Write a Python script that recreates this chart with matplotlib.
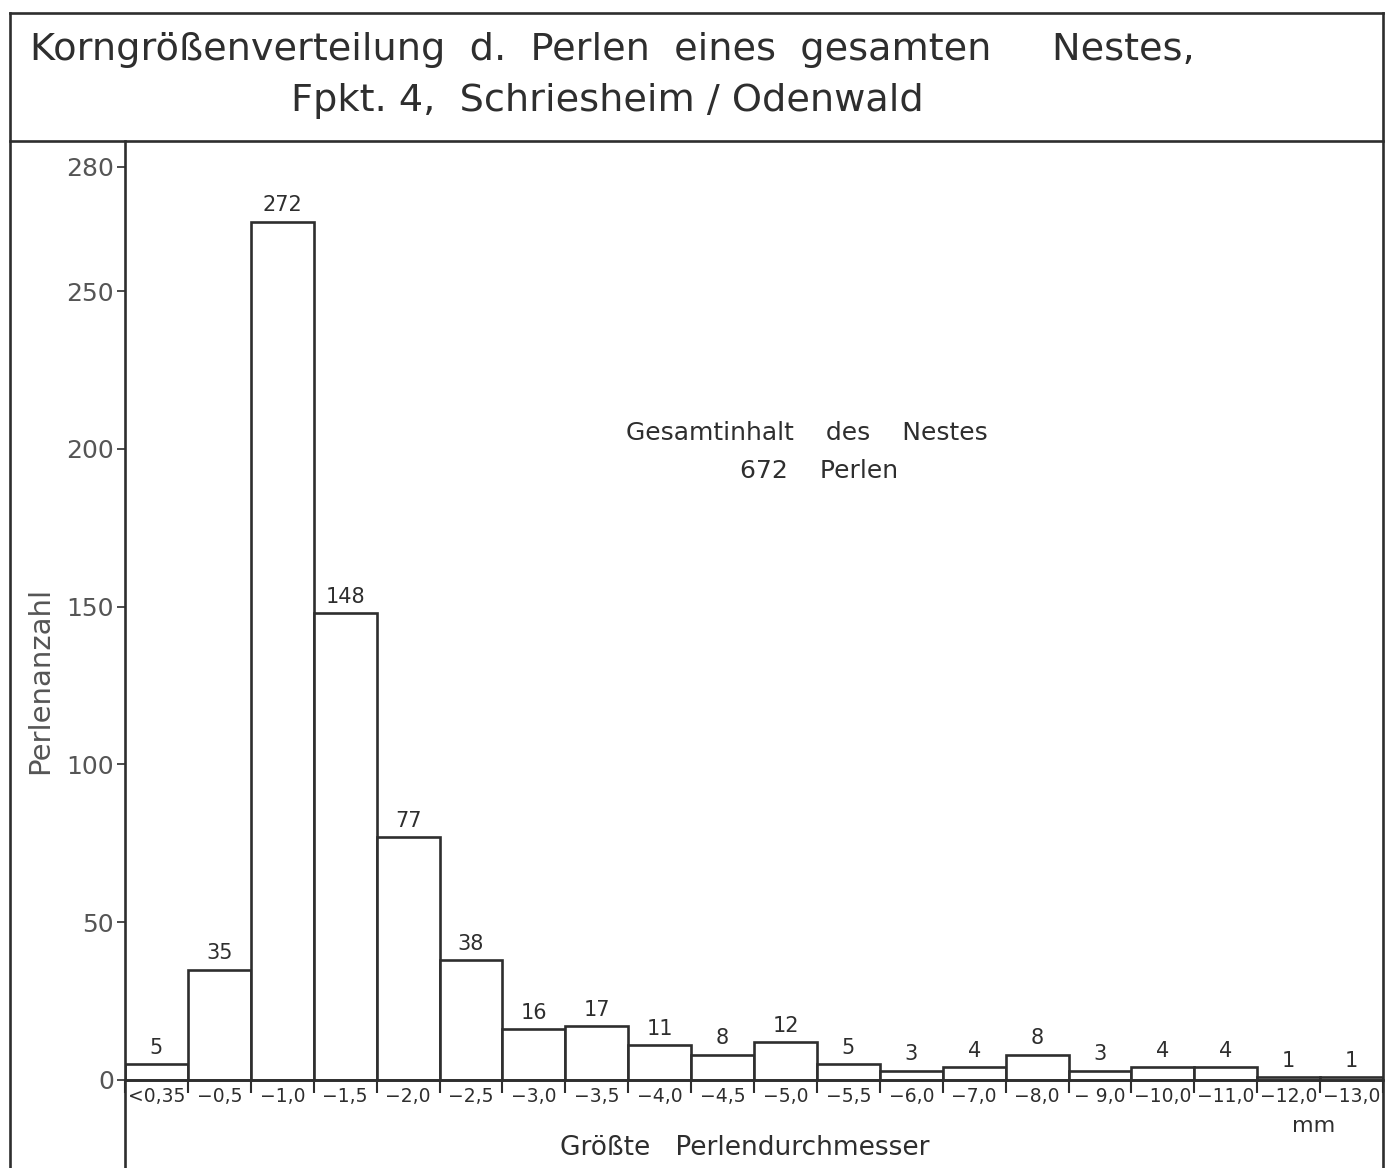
import numpy as np
import matplotlib
matplotlib.use("Agg")
import matplotlib.pyplot as plt
from matplotlib.lines import Line2D

# Klassen (größter Perlendurchmesser, mm) und Anzahl der Perlen
klassen = ["<0,35", "−0,5", "−1,0", "−1,5", "−2,0", "−2,5", "−3,0", "−3,5",
           "−4,0", "−4,5", "−5,0", "−5,5", "−6,0", "−7,0", "−8,0", "− 9,0",
           "−10,0", "−11,0", "−12,0", "−13,0"]
anzahl = [5, 35, 272, 148, 77, 38, 16, 17, 11, 8, 12, 5, 3, 4, 8, 3, 4, 4, 1, 1]
y_labels = ["0", "50", "100", "150", "200", "250", "280"]
# in der Vorlage ist die Marke "280" etwas zu hoch eingezeichnet
y_ticks = [0, 50, 100, 150, 200, 250, 289.4]

farbe = "#2e2e2e"
lw = 1.9

fig = plt.figure(figsize=(13.93, 11.68), dpi=100)
W, H = 1393, 1168

def fx(px):
    return px / W

def fy(py):
    return 1 - py / H

ax = fig.add_axes([fx(125), 0, fx(1383) - fx(125), fy(141)])

pos = np.arange(len(anzahl))
ax.bar(pos, anzahl, width=1.0, align="edge", facecolor="white",
       edgecolor=farbe, linewidth=lw, zorder=2)

for i, v in enumerate(anzahl):
    ax.text(i + 0.5, v + 2.0, str(v), ha="center", va="bottom",
            fontsize=15, color=farbe)

ax.set_xlim(0, len(anzahl))
ax.set_ylim(-27.9, 297.6)

# Achsen
for s in ["top", "right"]:
    ax.spines[s].set_visible(False)
ax.spines["left"].set_linewidth(lw)
ax.spines["left"].set_color(farbe)
ax.spines["bottom"].set_position(("data", 0))
ax.spines["bottom"].set_linewidth(lw)
ax.spines["bottom"].set_color(farbe)

ax.set_yticks(y_ticks)
ax.set_yticklabels(y_labels, fontsize=18, color="#555555")
ax.tick_params(axis="y", direction="out", length=6, width=1.2, color=farbe, pad=2)

ax.set_xticks(np.arange(len(anzahl) + 1))
ax.set_xticklabels([])
ax.tick_params(axis="x", which="major", direction="out", length=9,
               width=1.5, color=farbe)
ax.set_xticks(pos + 0.5, minor=True)
ax.set_xticklabels(klassen, minor=True, fontsize=13.5, color=farbe)
ax.tick_params(axis="x", which="minor", length=0, pad=5)

ax.text(0.945, 0.041, "mm", transform=ax.transAxes,
        ha="center", va="center", fontsize=16, color=farbe)
ax.text(0.493, 0.0195, "Größte   Perlendurchmesser", transform=ax.transAxes,
        ha="center", va="center", fontsize=19, color=farbe)

ax.text(0.542, 0.7157, "Gesamtinhalt    des    Nestes", transform=ax.transAxes,
        ha="center", va="center", fontsize=18, color=farbe)
ax.text(0.552, 0.6787, "672    Perlen", transform=ax.transAxes,
        ha="center", va="center", fontsize=18, color=farbe)

fig.text(fx(40), fy(680), "Perlenanzahl", rotation=90, ha="center",
         va="center", fontsize=21, color="#555555")

# Titel
fig.text(fx(30), fy(50), "Korngrößenverteilung  d.  Perlen  eines  gesamten     Nestes,",
         ha="left", va="center", fontsize=27.5, color=farbe)
fig.text(fx(607), fy(101), "Fpkt. 4,  Schriesheim / Odenwald",
         ha="center", va="center", fontsize=27.5, color=farbe)

# Rahmen
for xs, ys in [([fx(10), fx(10)], [0, fy(13)]),
               ([fx(10), fx(1383)], [fy(13), fy(13)]),
               ([fx(1383), fx(1383)], [0, fy(13)]),
               ([fx(10), fx(1383)], [fy(141), fy(141)])]:
    fig.add_artist(Line2D(xs, ys, color=farbe, linewidth=lw))

fig.savefig("out.png", dpi=100, facecolor="white")
